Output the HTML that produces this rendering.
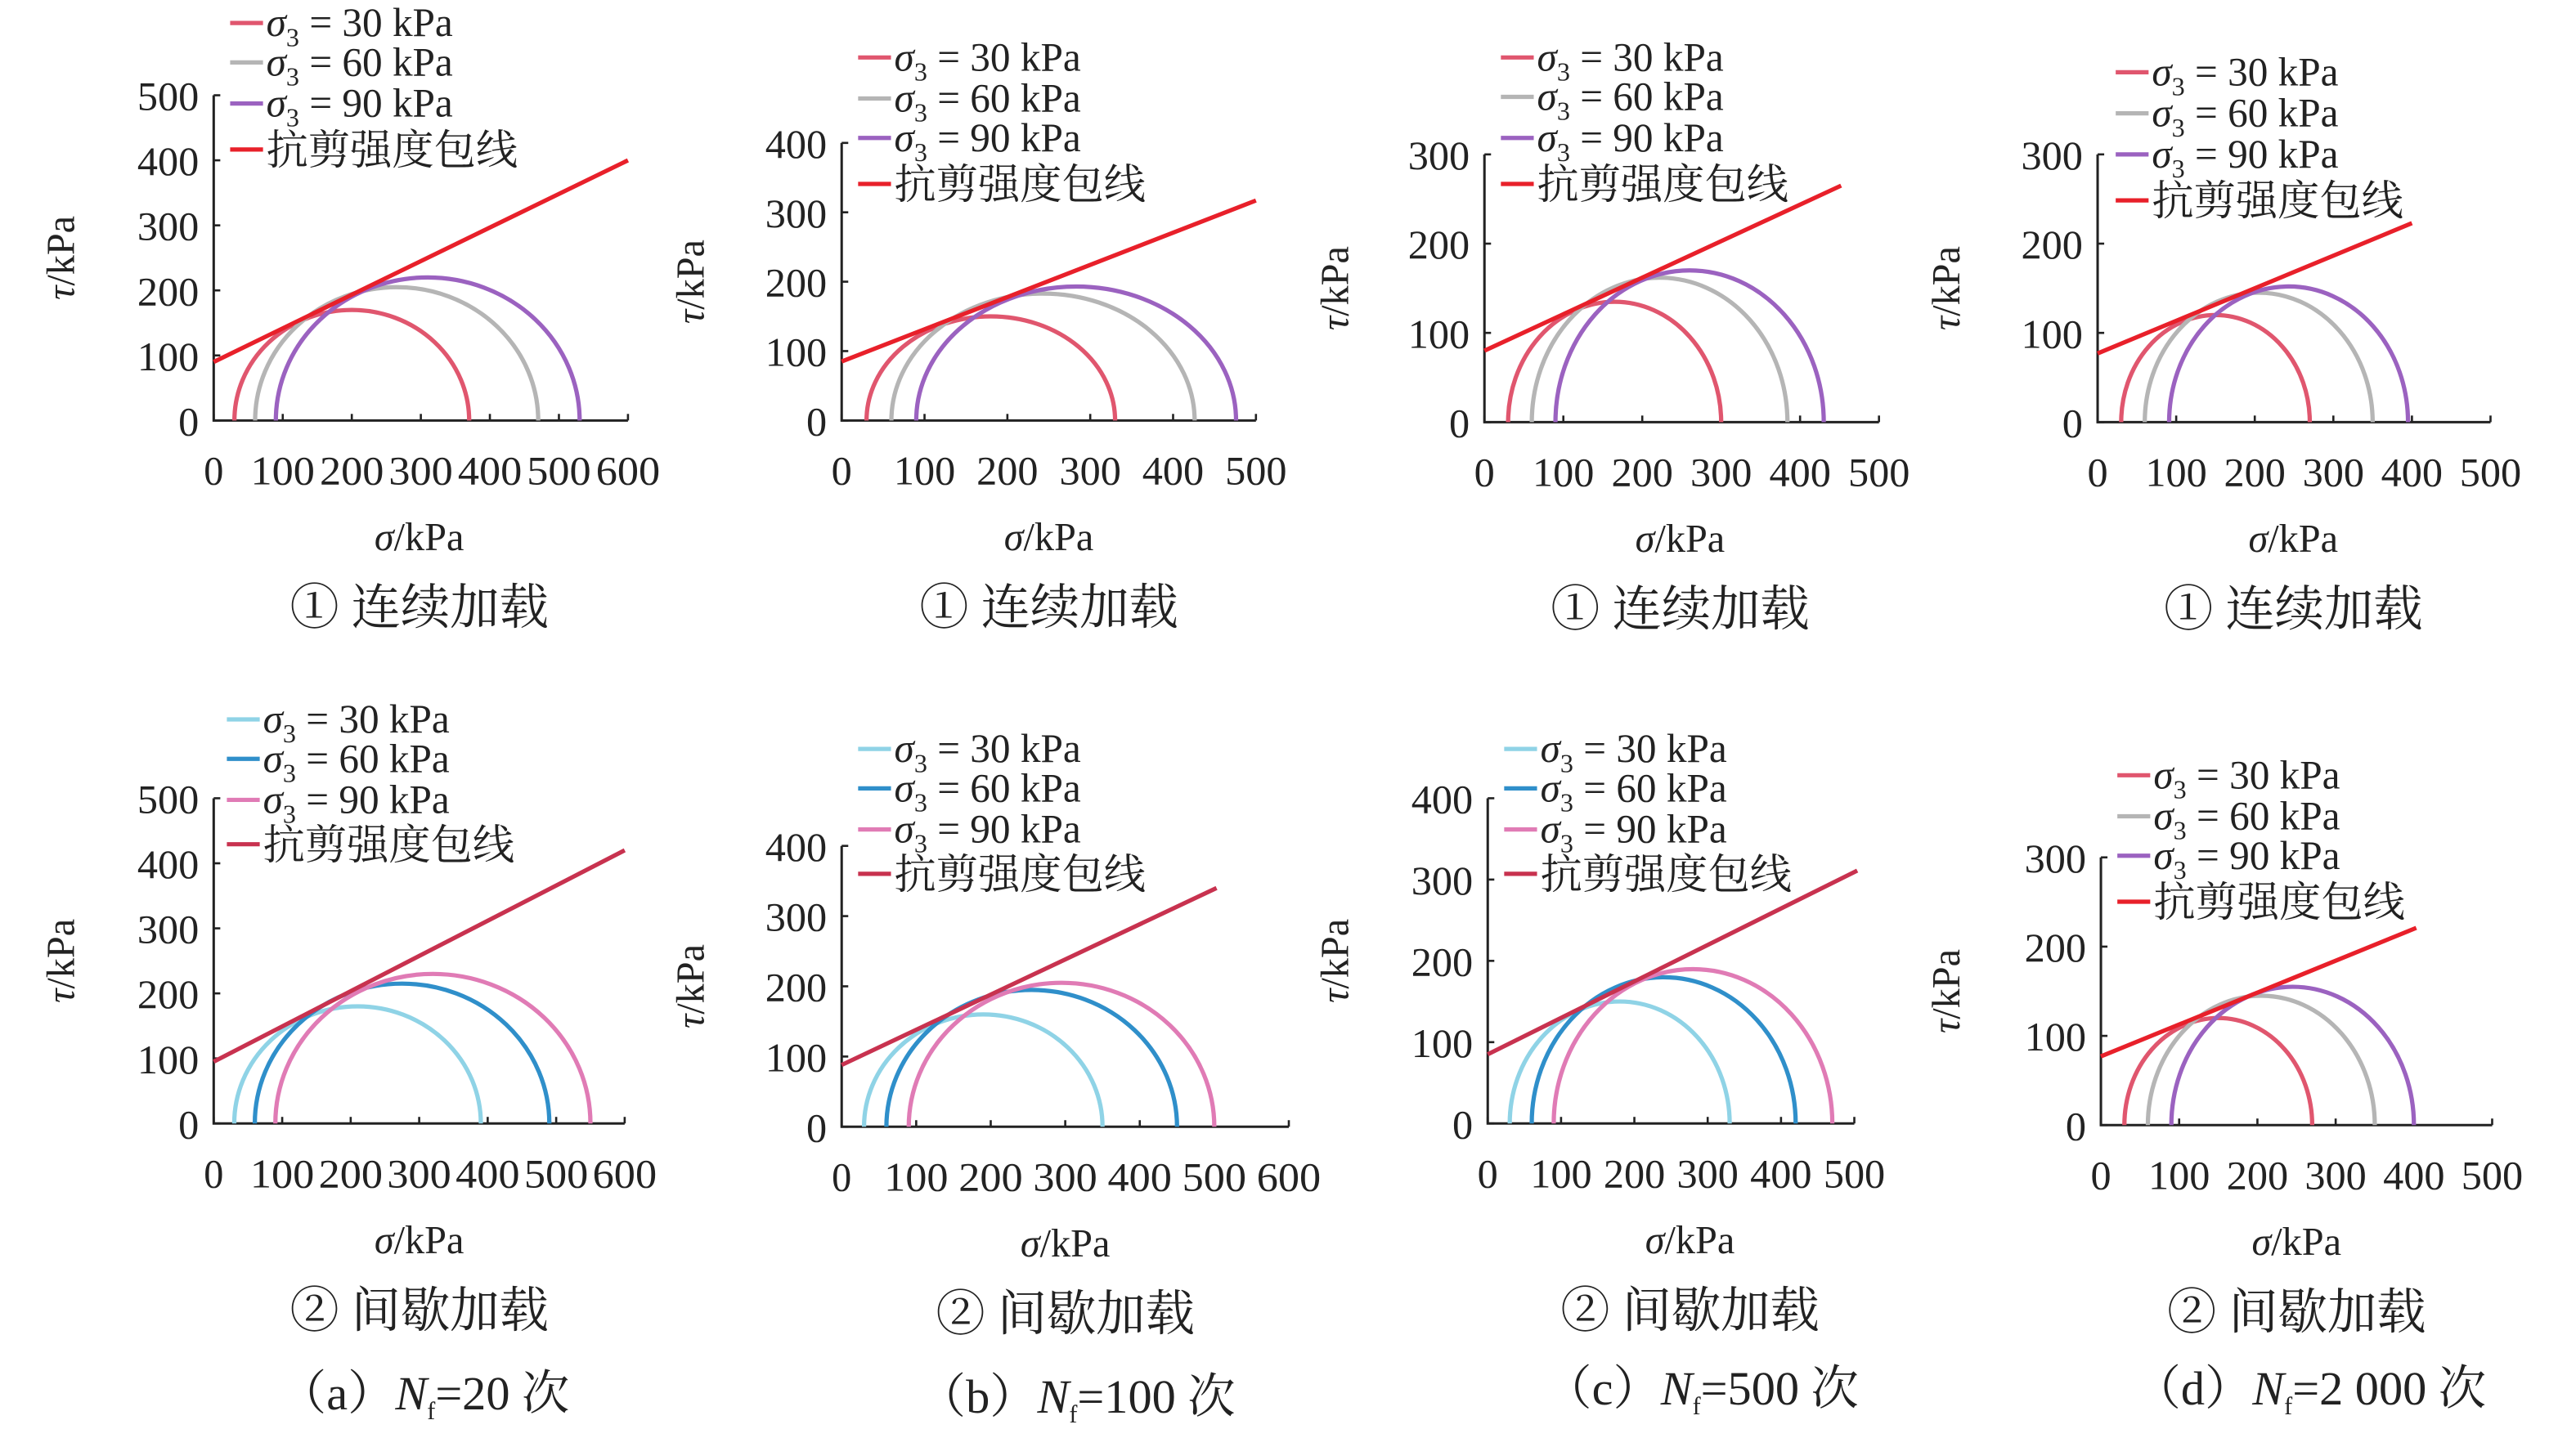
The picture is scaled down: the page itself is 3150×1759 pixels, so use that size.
<!DOCTYPE html>
<html><head><meta charset="utf-8"><style>
html,body{margin:0;padding:0;background:#fff}
svg{display:block}
text{font-family:"Liberation Serif","Noto Serif CJK SC",serif;fill:#222}
</style></head><body>
<svg id="s" width="3150" height="1759" viewBox="0 0 1567 875.5" preserveAspectRatio="none" xmlns="http://www.w3.org/2000/svg"></svg>
<script>
const S=document.getElementById('s');let h='';
const C1=['#e0566e','#b5b5b5','#9b62c0','#e8202a'];
const C2=['#8fd3e6','#2f8fca','#e07bb5','#c8324f'];
const NF=(t)=>'<tspan font-style="italic">N</tspan><tspan font-size="15" dy="6">f</tspan><tspan dy="-6">='+t+' 次</tspan>';
const P=[
 {x0:130,xs:252/600,xm:600,xt:100,y0:256,ys:198/500,ym:500,yt:100,c:[[200,170],[265,205],[310,220]],e:[90,600,400],lx:140,ly:[14,38,63,91],col:C1,cap:'① 连续加载',cx:255,ylx:45},
 {x0:512,xs:252/500,xm:500,xt:100,y0:256,ys:169/400,ym:400,yt:100,c:[[180,150],[243,183],[283,193]],e:[85,500,317],lx:522,ly:[35,60,84,112],col:C1,cap:'① 连续加载',cx:638,ylx:428},
 {x0:903,xs:240/500,xm:500,xt:100,y0:257,ys:163/300,ym:300,yt:100,c:[[165,135],[222,162],[260,170]],e:[80,452,265],lx:913,ly:[35,59,84,112],col:C1,cap:'① 连续加载',cx:1022,ylx:820},
 {x0:1276,xs:239/500,xm:500,xt:100,y0:257,ys:163/300,ym:300,yt:100,c:[[150,120],[205,145],[243,152]],e:[77,400,223],lx:1287,ly:[44,69,94,122],col:C1,cap:'① 连续加载',cx:1395,ylx:1192},
 {x0:130,xs:250/600,xm:600,xt:100,y0:684,ys:198/500,ym:500,yt:100,c:[[210,180],[275,215],[320,230]],e:[95,600,420],lx:138,ly:[438,462,487,514],col:C2,cap:'② 间歇加载',cx:255,ylx:45,sub:'（a）'+NF('20'),sx:258,sy:858},
 {x0:512,xs:272/600,xm:600,xt:100,y0:686,ys:171/400,ym:400,yt:100,c:[[190,160],[255,195],[295,205]],e:[88,503,340],lx:522,ly:[456,480,505,532],col:C2,cap:'② 间歇加载',cx:648,ylx:428,sub:'（b）'+NF('100'),sx:655,sy:860},
 {x0:905,xs:223/500,xm:500,xt:100,y0:684,ys:198/400,ym:400,yt:100,c:[[180,150],[240,180],[280,190]],e:[85,504,311],lx:915,ly:[456,480,505,532],col:C2,cap:'② 间歇加载',cx:1028,ylx:820,sub:'（c）'+NF('500'),sx:1035,sy:855},
 {x0:1278,xs:238/500,xm:500,xt:100,y0:685,ys:163/300,ym:300,yt:100,c:[[150,120],[205,145],[245,155]],e:[77,403,221],lx:1288,ly:[472,497,521,549],col:C1,cap:'② 间歇加载',cx:1397,ylx:1192,sub:'（d）'+NF('2 000'),sx:1405,sy:855}
];
P.forEach(p=>{
 const X=v=>p.x0+v*p.xs,Y=v=>p.y0-v*p.ys;
 const xe=X(p.xm),yt=Y(p.ym);
 h+=`<path d="M${p.x0} ${yt}V${p.y0}H${xe}" fill="none" stroke="#222" stroke-width="1.5"/>`;
 for(let v=0;v<=p.ym;v+=p.yt){h+=`<line x1="${p.x0}" x2="${p.x0+4}" y1="${Y(v)}" y2="${Y(v)}" stroke="#222" stroke-width="1.3"/><text x="${p.x0-9}" y="${Y(v)+9}" font-size="25" text-anchor="end">${v}</text>`;}
 for(let v=0;v<=p.xm;v+=p.xt){h+=`<line x1="${X(v)}" x2="${X(v)}" y1="${p.y0}" y2="${p.y0-4}" stroke="#222" stroke-width="1.3"/><text x="${X(v)}" y="${p.y0+39}" font-size="25" text-anchor="middle" ${p.xm==600?'textLength="'+(v==0?12:39)+'" lengthAdjust="spacingAndGlyphs"':''}>${v}</text>`;}
 p.c.forEach((c,i)=>{h+=`<path d="M${X(c[0]-c[1])} ${p.y0}A${c[1]*p.xs} ${c[1]*p.ys} 0 0 1 ${X(c[0]+c[1])} ${p.y0}" fill="none" stroke="${p.col[i]}" stroke-width="2.6"/>`;});
 h+=`<line x1="${X(0)}" y1="${Y(p.e[0])}" x2="${X(p.e[1])}" y2="${Y(p.e[2])}" stroke="${p.col[3]}" stroke-width="2.6"/>`;
 const lab=['30','60','90'];
 p.ly.forEach((y,i)=>{h+=`<line x1="${p.lx}" x2="${p.lx+20}" y1="${y}" y2="${y}" stroke="${p.col[i]}" stroke-width="2.6"/>`;
  if(i<3)h+=`<text x="${p.lx+22}" y="${y+8}" font-size="24.5"><tspan font-style="italic">σ</tspan><tspan font-size="16" dy="6">3</tspan><tspan dy="-6"> = ${lab[i]} kPa</tspan></text>`;
  else h+=`<text x="${p.lx+22}" y="${y+9}" font-size="25.5">抗剪强度包线</text>`;});
 h+=`<text x="${p.ylx}" y="${(p.y0+yt)/2}" font-size="24" text-anchor="middle" transform="rotate(-90 ${p.ylx} ${(p.y0+yt)/2})"><tspan font-style="italic">τ</tspan>/kPa</text>`;
 h+=`<text x="${p.cx}" y="${p.y0+79}" font-size="24" text-anchor="middle"><tspan font-style="italic">σ</tspan>/kPa</text>`;
 h+=`<text x="${p.cx}" y="${p.y0+124}" font-size="30" text-anchor="middle">${p.cap}</text>`;
 if(p.sub)h+=`<text x="${p.sx}" y="${p.sy}" font-size="29" text-anchor="middle">${p.sub}</text>`;
});
S.innerHTML=h;
</script>
</body></html>
